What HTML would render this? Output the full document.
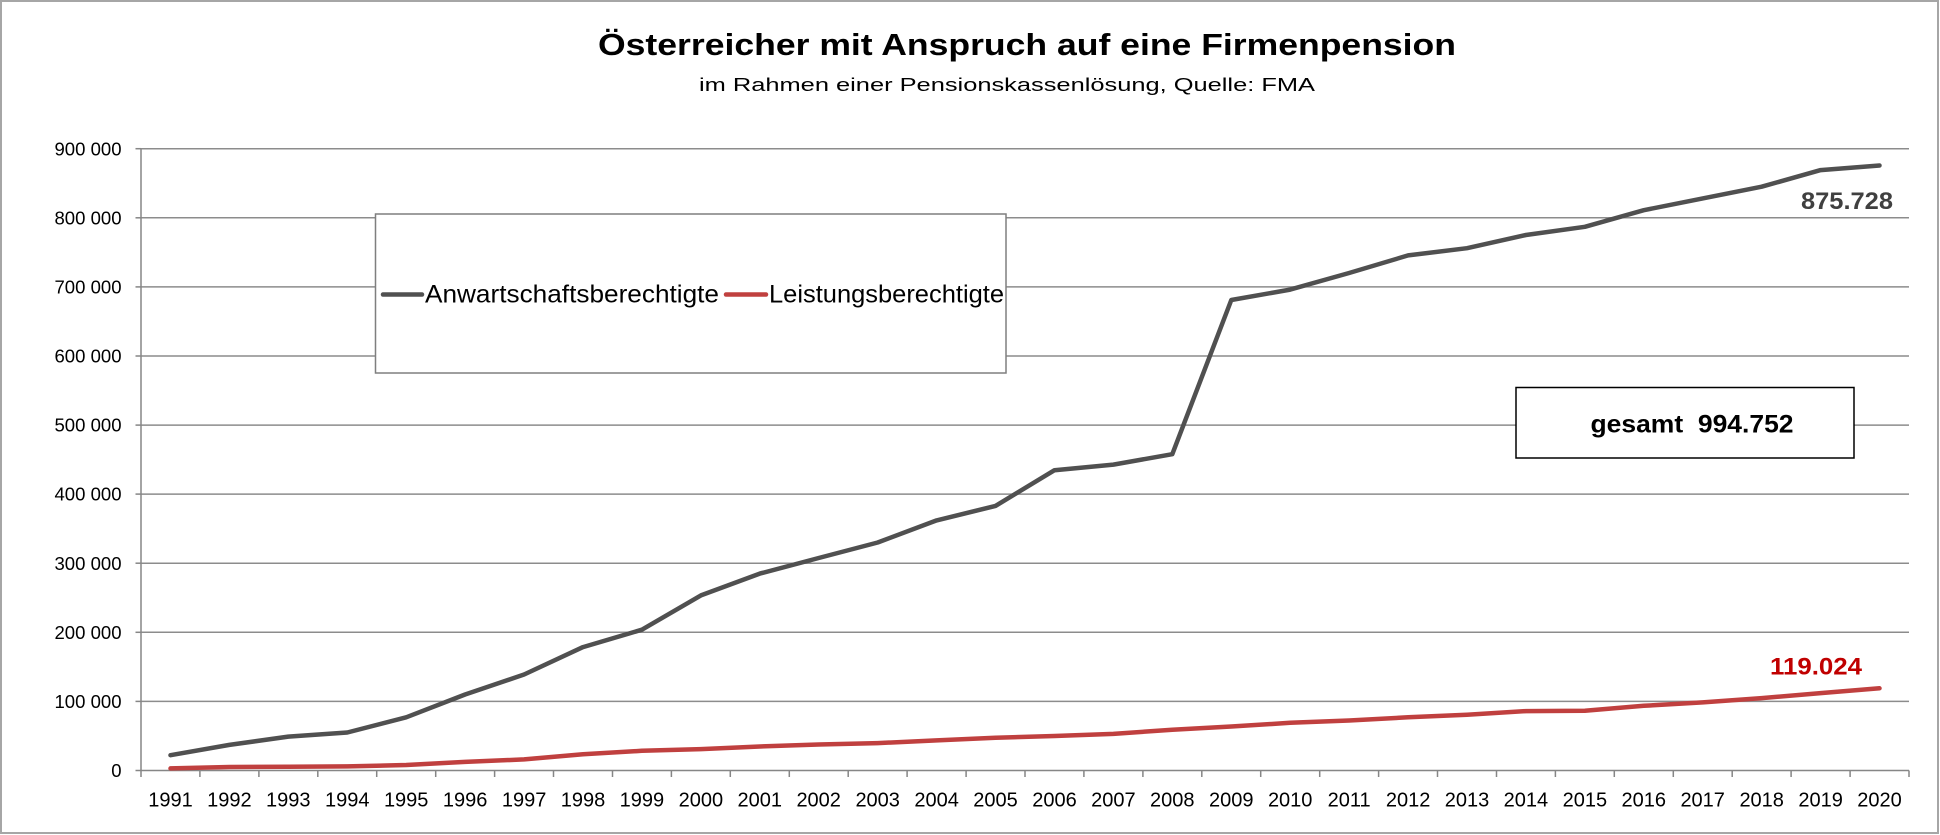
<!DOCTYPE html>
<html>
<head>
<meta charset="utf-8">
<style>
  html, body { margin: 0; padding: 0; background: #fff; }
  svg { display: block; }
  text { font-family: "Liberation Sans", "DejaVu Sans", sans-serif; }
</style>
</head>
<body>
<svg width="1940" height="835" viewBox="0 0 1940 835" xmlns="http://www.w3.org/2000/svg">
  <rect x="0" y="0" width="1940" height="835" fill="#ffffff"/>
  <rect x="1" y="1" width="1937" height="832" fill="none" stroke="#a6a6a6" stroke-width="2"/>

  <!-- Title -->
  <text x="1027" y="55" text-anchor="middle" font-size="31" font-weight="bold" fill="#000" textLength="858" lengthAdjust="spacingAndGlyphs">Österreicher mit Anspruch auf eine Firmenpension</text>
  <text x="1007" y="91" text-anchor="middle" font-size="18" fill="#000" textLength="616" lengthAdjust="spacingAndGlyphs">im Rahmen einer Pensionskassenlösung, Quelle: FMA</text>

  <!-- Gridlines -->
  <g stroke="#8c8c8c" stroke-width="1.5">
    <line x1="141" y1="148.7" x2="1909" y2="148.7"/>
    <line x1="141" y1="217.8" x2="1909" y2="217.8"/>
    <line x1="141" y1="286.9" x2="1909" y2="286.9"/>
    <line x1="141" y1="356.0" x2="1909" y2="356.0"/>
    <line x1="141" y1="425.1" x2="1909" y2="425.1"/>
    <line x1="141" y1="494.1" x2="1909" y2="494.1"/>
    <line x1="141" y1="563.2" x2="1909" y2="563.2"/>
    <line x1="141" y1="632.3" x2="1909" y2="632.3"/>
    <line x1="141" y1="701.4" x2="1909" y2="701.4"/>
  </g>

  <!-- Axes -->
  <g stroke="#868686" stroke-width="1.5">
    <line x1="141" y1="148.7" x2="141" y2="770.5"/>
    <line x1="141" y1="770.5" x2="1909" y2="770.5"/>
    <line x1="135.5" y1="148.7" x2="141" y2="148.7"/>
    <line x1="135.5" y1="217.8" x2="141" y2="217.8"/>
    <line x1="135.5" y1="286.9" x2="141" y2="286.9"/>
    <line x1="135.5" y1="356.0" x2="141" y2="356.0"/>
    <line x1="135.5" y1="425.1" x2="141" y2="425.1"/>
    <line x1="135.5" y1="494.1" x2="141" y2="494.1"/>
    <line x1="135.5" y1="563.2" x2="141" y2="563.2"/>
    <line x1="135.5" y1="632.3" x2="141" y2="632.3"/>
    <line x1="135.5" y1="701.4" x2="141" y2="701.4"/>
    <line x1="135.5" y1="770.5" x2="141" y2="770.5"/>
    <line x1="141.0" y1="770.5" x2="141.0" y2="777"/>
    <line x1="199.9" y1="770.5" x2="199.9" y2="777"/>
    <line x1="258.9" y1="770.5" x2="258.9" y2="777"/>
    <line x1="317.8" y1="770.5" x2="317.8" y2="777"/>
    <line x1="376.7" y1="770.5" x2="376.7" y2="777"/>
    <line x1="435.7" y1="770.5" x2="435.7" y2="777"/>
    <line x1="494.6" y1="770.5" x2="494.6" y2="777"/>
    <line x1="553.5" y1="770.5" x2="553.5" y2="777"/>
    <line x1="612.5" y1="770.5" x2="612.5" y2="777"/>
    <line x1="671.4" y1="770.5" x2="671.4" y2="777"/>
    <line x1="730.3" y1="770.5" x2="730.3" y2="777"/>
    <line x1="789.3" y1="770.5" x2="789.3" y2="777"/>
    <line x1="848.2" y1="770.5" x2="848.2" y2="777"/>
    <line x1="907.1" y1="770.5" x2="907.1" y2="777"/>
    <line x1="966.1" y1="770.5" x2="966.1" y2="777"/>
    <line x1="1025.0" y1="770.5" x2="1025.0" y2="777"/>
    <line x1="1083.9" y1="770.5" x2="1083.9" y2="777"/>
    <line x1="1142.9" y1="770.5" x2="1142.9" y2="777"/>
    <line x1="1201.8" y1="770.5" x2="1201.8" y2="777"/>
    <line x1="1260.7" y1="770.5" x2="1260.7" y2="777"/>
    <line x1="1319.7" y1="770.5" x2="1319.7" y2="777"/>
    <line x1="1378.6" y1="770.5" x2="1378.6" y2="777"/>
    <line x1="1437.5" y1="770.5" x2="1437.5" y2="777"/>
    <line x1="1496.5" y1="770.5" x2="1496.5" y2="777"/>
    <line x1="1555.4" y1="770.5" x2="1555.4" y2="777"/>
    <line x1="1614.3" y1="770.5" x2="1614.3" y2="777"/>
    <line x1="1673.3" y1="770.5" x2="1673.3" y2="777"/>
    <line x1="1732.2" y1="770.5" x2="1732.2" y2="777"/>
    <line x1="1791.1" y1="770.5" x2="1791.1" y2="777"/>
    <line x1="1850.1" y1="770.5" x2="1850.1" y2="777"/>
    <line x1="1909.0" y1="770.5" x2="1909.0" y2="777"/>
  </g>

  <!-- Y labels -->
  <g font-size="18.5" fill="#000" text-anchor="end">
    <text x="121.5" y="155.3" textLength="67" lengthAdjust="spacingAndGlyphs">900 000</text>
    <text x="121.5" y="224.4" textLength="67" lengthAdjust="spacingAndGlyphs">800 000</text>
    <text x="121.5" y="293.5" textLength="67" lengthAdjust="spacingAndGlyphs">700 000</text>
    <text x="121.5" y="362.6" textLength="67" lengthAdjust="spacingAndGlyphs">600 000</text>
    <text x="121.5" y="431.7" textLength="67" lengthAdjust="spacingAndGlyphs">500 000</text>
    <text x="121.5" y="500.7" textLength="67" lengthAdjust="spacingAndGlyphs">400 000</text>
    <text x="121.5" y="569.8" textLength="67" lengthAdjust="spacingAndGlyphs">300 000</text>
    <text x="121.5" y="638.9" textLength="67" lengthAdjust="spacingAndGlyphs">200 000</text>
    <text x="121.5" y="708.0" textLength="67" lengthAdjust="spacingAndGlyphs">100 000</text>
    <text x="121.5" y="777.1">0</text>
  </g>

  <!-- X labels -->
  <g font-size="20" fill="#000" text-anchor="middle">
    <text x="170.5" y="806.5">1991</text>
    <text x="229.4" y="806.5">1992</text>
    <text x="288.3" y="806.5">1993</text>
    <text x="347.3" y="806.5">1994</text>
    <text x="406.2" y="806.5">1995</text>
    <text x="465.1" y="806.5">1996</text>
    <text x="524.1" y="806.5">1997</text>
    <text x="583.0" y="806.5">1998</text>
    <text x="641.9" y="806.5">1999</text>
    <text x="700.9" y="806.5">2000</text>
    <text x="759.8" y="806.5">2001</text>
    <text x="818.7" y="806.5">2002</text>
    <text x="877.7" y="806.5">2003</text>
    <text x="936.6" y="806.5">2004</text>
    <text x="995.5" y="806.5">2005</text>
    <text x="1054.5" y="806.5">2006</text>
    <text x="1113.4" y="806.5">2007</text>
    <text x="1172.3" y="806.5">2008</text>
    <text x="1231.3" y="806.5">2009</text>
    <text x="1290.2" y="806.5">2010</text>
    <text x="1349.1" y="806.5">2011</text>
    <text x="1408.1" y="806.5">2012</text>
    <text x="1467.0" y="806.5">2013</text>
    <text x="1525.9" y="806.5">2014</text>
    <text x="1584.9" y="806.5">2015</text>
    <text x="1643.8" y="806.5">2016</text>
    <text x="1702.7" y="806.5">2017</text>
    <text x="1761.7" y="806.5">2018</text>
    <text x="1820.6" y="806.5">2019</text>
    <text x="1879.5" y="806.5">2020</text>
  </g>

  <!-- Series: Leistungsberechtigte (red) -->
  <polyline fill="none" stroke="#c0403f" stroke-width="4.5" stroke-linejoin="round" stroke-linecap="round"
    points="170.5,768.4 229.4,767.0 288.3,766.7 347.3,766.4 406.2,765.0 465.1,761.9 524.1,759.4 583.0,754.2 641.9,750.8 700.9,749.1 759.8,746.5 818.7,744.5 877.7,743.1 936.6,740.4 995.5,737.8 1054.5,736.0 1113.4,733.9 1172.3,729.7 1231.3,726.5 1290.2,722.8 1349.1,720.5 1408.1,717.3 1467.0,714.8 1525.9,711.1 1584.9,710.8 1643.8,705.8 1702.7,702.4 1761.7,698.1 1820.6,693.1 1879.5,688.3"/>

  <!-- Series: Anwartschaftsberechtigte (gray) -->
  <polyline fill="none" stroke="#505050" stroke-width="4.5" stroke-linejoin="round" stroke-linecap="round"
    points="170.5,755.2 229.4,744.9 288.3,736.6 347.3,732.5 406.2,717.3 465.1,694.5 524.1,674.5 583.0,647.1 641.9,629.7 700.9,595.4 759.8,573.6 818.7,558.0 877.7,542.5 936.6,520.4 995.5,505.9 1054.5,470.2 1113.4,464.6 1172.3,454.2 1231.3,300.0 1290.2,289.6 1349.1,273.0 1408.1,255.4 1467.0,248.2 1525.9,235.0 1584.9,226.8 1643.8,210.2 1702.7,198.4 1761.7,186.7 1820.6,170.1 1879.5,165.5"/>

  <!-- Data labels -->
  <text x="1847" y="209" text-anchor="middle" font-size="24" font-weight="bold" fill="#404040" textLength="92" lengthAdjust="spacingAndGlyphs">875.728</text>
  <text x="1816" y="674.5" text-anchor="middle" font-size="24" font-weight="bold" fill="#c00000" textLength="92" lengthAdjust="spacingAndGlyphs">119.024</text>

  <!-- Legend -->
  <rect x="375.5" y="214" width="630.5" height="159" fill="#ffffff" stroke="#7f7f7f" stroke-width="1.5"/>
  <line x1="383" y1="294.5" x2="422" y2="294.5" stroke="#505050" stroke-width="4.5" stroke-linecap="round"/>
  <text x="425" y="302.5" font-size="25" fill="#000" textLength="294" lengthAdjust="spacingAndGlyphs">Anwartschaftsberechtigte</text>
  <line x1="726" y1="294.5" x2="766" y2="294.5" stroke="#c0403f" stroke-width="4.5" stroke-linecap="round"/>
  <text x="769" y="302.5" font-size="25" fill="#000" textLength="235" lengthAdjust="spacingAndGlyphs">Leistungsberechtigte</text>

  <!-- gesamt box -->
  <rect x="1516" y="387.5" width="338" height="70.5" fill="#ffffff" stroke="#000000" stroke-width="1.5"/>
  <text x="1692" y="432.5" text-anchor="middle" font-size="25" font-weight="bold" fill="#000" textLength="203" lengthAdjust="spacingAndGlyphs" xml:space="preserve">gesamt  994.752</text>
</svg>
</body>
</html>
